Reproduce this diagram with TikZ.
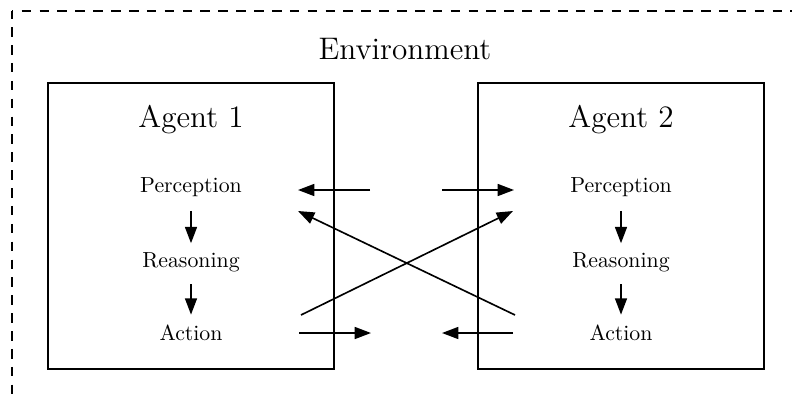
\documentclass[tikz,border=0pt]{standalone}
\usetikzlibrary{arrows.meta}
\begin{document}
\begin{tikzpicture}[x=0.4587pt,y=-0.4587pt, line width=0.75pt,
  arr/.style={-{Triangle[length=7.5pt,width=5.5pt]}},
  lbl/.style={anchor=base, inner sep=0pt, font=\normalsize},
  big/.style={anchor=base, inner sep=0pt, font=\fontsize{14.3}{17}\selectfont},
  agentbox/.style={draw, minimum width=131.2pt, minimum height=131.2pt, inner sep=0pt},
  envdash/.style={dash pattern=on 4.4pt off 3.8pt},
  down1/.style={arr, shorten <=6.3pt, shorten >=3.7pt},
  down2/.style={arr, shorten <=5.5pt, shorten >=4.1pt}]
\clip (0,0) rectangle (792,401);
\draw[envdash, dash phase=0.8pt] (12,11) -- (12,421);
\draw[envdash, dash phase=3.76pt] (12,11) -- (812,11);
\node[big] (env) at (405,59.5) {Environment};
% Agent 1
\node[agentbox] (box1) at (191,226) {};
\node[big] (ag1) at (191,127) {Agent 1};
\node[lbl] (p1) at (191,192) {Perception};
\node[lbl] (r1) at (191,267) {Reasoning};
\node[lbl] (a1) at (191,340) {Action};
\draw[down1] (p1.south) -- (r1.north);
\draw[down2] (r1.south) -- (a1.north);
% Agent 2
\node[agentbox] (box2) at (621,226) {};
\node[big] (ag2) at (621,127) {Agent 2};
\node[lbl] (p2) at (621,192) {Perception};
\node[lbl] (r2) at (621,267) {Reasoning};
\node[lbl] (a2) at (621,340) {Action};
\draw[down1] (p2.south) -- (r2.north);
\draw[down2] (r2.south) -- (a2.north);
% free ends
\coordinate (ta1) at (370,190);
\coordinate (tb1) at (298,190);
\coordinate (ta2) at (442,190);
\coordinate (tb2) at (514,190);
\coordinate (ba1) at (299,333);
\coordinate (bb1) at (371,333);
\coordinate (ba2) at (513,333);
\coordinate (bb2) at (442,333);
\coordinate (d1s) at (301,315);
\coordinate (d1e) at (513,211);
\coordinate (d2s) at (515,315);
\coordinate (d2e) at (298,211);
\draw[arr] (ta1) -- (tb1);
\draw[arr] (ta2) -- (tb2);
\draw[arr] (ba1) -- (bb1);
\draw[arr] (ba2) -- (bb2);
\draw[arr] (d1s) -- (d1e);
\draw[arr] (d2s) -- (d2e);
\end{tikzpicture}
\end{document}
